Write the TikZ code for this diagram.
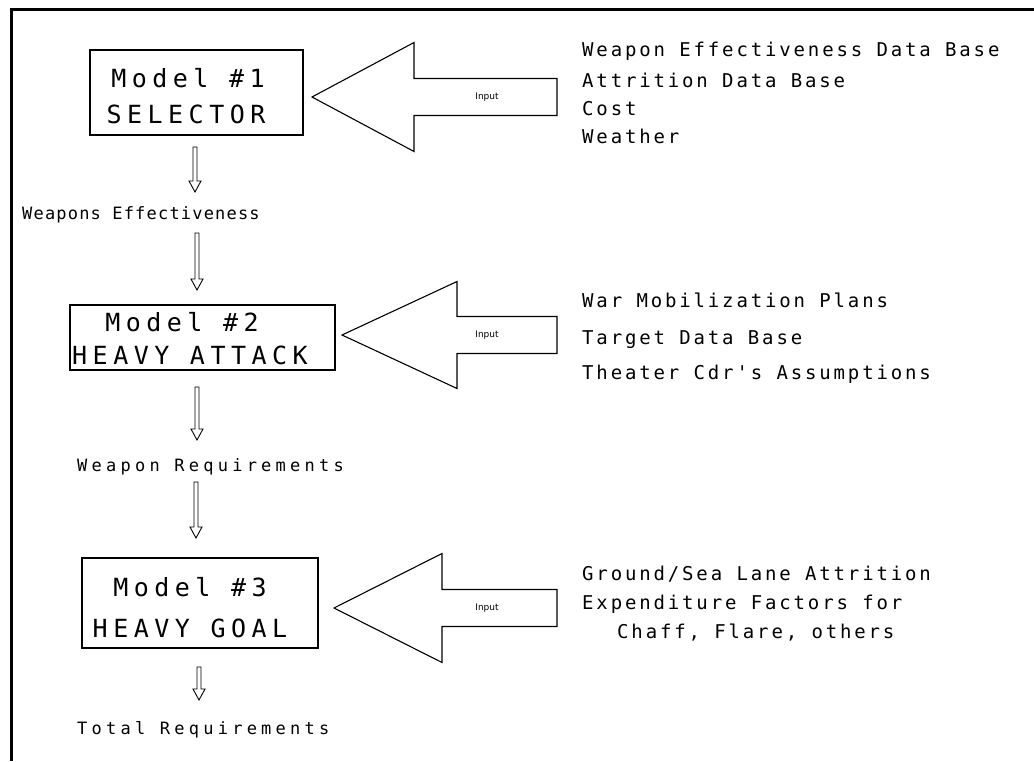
\documentclass[tikz,border=0pt]{standalone}
\usepackage{fontspec}
\setmainfont{DejaVu Sans}
\newfontfamily\boxfont[LetterSpace=22]{DejaVu Sans Mono}
\newfontfamily\listfont[LetterSpace=15]{DejaVu Sans Mono}
\newfontfamily\lblfonta[LetterSpace=7]{DejaVu Sans Mono}
\newfontfamily\lblfontb[LetterSpace=25]{DejaVu Sans Mono}
\newfontfamily\inpfont{DejaVu Sans}
\usetikzlibrary{calc}
\tikzset{
  modelbox/.style={draw, line width=1.1pt, align=center, inner sep=0pt},
  boxtext/.style={inner sep=0pt, font=\boxfont\fontsize{25}{36}\selectfont},
  listline/.style={anchor=west, inner sep=0pt, text height=14pt, text depth=0pt, font=\listfont\fontsize{19}{20}\selectfont},
  flowlbl/.style={anchor=west, inner sep=0pt, text height=12pt, text depth=0pt},
  inplbl/.style={inner sep=0pt, font=\inpfont\fontsize{9}{10}\selectfont},
  bigarrow/.style={draw, line width=1.1pt, line join=miter},
  hollow/.style={draw, line width=0.9pt, line join=miter},
  frameline/.style={line width=3pt}
}
% hollow down arrow between two named coordinates
\newcommand\hollowarrow[2]{%
  \draw[hollow] ($(#1)+(-2,0)$) -- ($(#1 |- #2)+(-2,-11)$) -- ($(#1 |- #2)+(-6,-11)$) -- (#1 |- #2)
     -- ($(#1 |- #2)+(6,-11)$) -- ($(#1 |- #2)+(2,-11)$) -- ($(#1)+(2,0)$) -- cycle;}
% big input arrow
\newcommand\inputarrow[5]{%
  \draw[bigarrow] (#1) -- ($(#1)+(#2,-#3)$) -- ($(#1)+(#2,-#4)$) -- ($(#1)+(#5,-#4)$)
     -- ($(#1)+(#5,#4)$) -- ($(#1)+(#2,#4)$) -- ($(#1)+(#2,#3)$) -- cycle;}
\begin{document}
\begin{tikzpicture}[x=1pt,y=-1pt]
\useasboundingbox (0,0) rectangle (1034,761);
% frame
\coordinate (fr-tr) at (1034,9);
\coordinate (fr-tl) at (11,9);
\coordinate (fr-bl) at (11,761);
\draw[frameline] (fr-tr) -- (fr-tl) -- (fr-bl);

% Model boxes
\node[modelbox, minimum width=213pt, minimum height=85pt] (m1) at (196.5,92.5) {};
\node[boxtext] (m1a) at (188,78) {Model \#1};
\node[boxtext] (m1b) at (186,114) {SELECTOR};

\node[modelbox, minimum width=265pt, minimum height=65pt] (m2) at (202.5,337.5) {};
\node[boxtext] (m2a) at (182,322) {Model \#2};
\node[boxtext] (m2b) at (190,355) {HEAVY ATTACK};

\node[modelbox, minimum width=236pt, minimum height=90pt] (m3) at (200,603) {};
\node[boxtext] (m3a) at (190,587) {Model \#3};
\node[boxtext] (m3b) at (190,628) {HEAVY GOAL};

% input arrows
\coordinate (t1) at (312,97);
\inputarrow{t1}{102}{54.5}{18.5}{245}
\node[inplbl] (in1) at (487,97) {Input};
\coordinate (t2) at (342,335);
\inputarrow{t2}{115}{53.5}{18.5}{215}
\node[inplbl] (in2) at (487,335) {Input};
\coordinate (t3) at (334,608);
\inputarrow{t3}{108}{54.5}{18.5}{223}
\node[inplbl] (in3) at (487,608) {Input};

% right lists
\node[listline] (l11) at (582,49) {Weapon Effectiveness Data Base};
\node[listline] (l12) at (582,80) {Attrition Data Base};
\node[listline] (l13) at (582,108) {Cost};
\node[listline] (l14) at (582,136) {Weather};

\node[listline] (l21) at (582,300) {War Mobilization Plans};
\node[listline] (l22) at (582,337) {Target Data Base};
\node[listline] (l23) at (582,372) {Theater Cdr's Assumptions};

\node[listline] (l31) at (582,573) {Ground/Sea Lane Attrition};
\node[listline] (l32) at (582,602) {Expenditure Factors for};
\node[listline] (l33) at (617,631) {Chaff, Flare, others};

% flow labels
\node[flowlbl, font=\lblfonta\fontsize{17}{18}\selectfont] (we) at (22,213) {Weapons Effectiveness};
\node[flowlbl, font=\lblfontb\fontsize{17}{18}\selectfont] (wr) at (77,465) {Weapon Requirements};
\node[flowlbl, font=\lblfontb\fontsize{17}{18}\selectfont] (tr) at (77,728) {Total Requirements};

% hollow down arrows
\coordinate (a1s) at (195,147); \coordinate (a1e) at (195,192);
\hollowarrow{a1s}{a1e}
\coordinate (a2s) at (197,233); \coordinate (a2e) at (197,290);
\hollowarrow{a2s}{a2e}
\coordinate (a3s) at (197,387); \coordinate (a3e) at (197,440);
\hollowarrow{a3s}{a3e}
\coordinate (a4s) at (196,482); \coordinate (a4e) at (196,538);
\hollowarrow{a4s}{a4e}
\coordinate (a5s) at (199,667); \coordinate (a5e) at (199,700);
\hollowarrow{a5s}{a5e}
\end{tikzpicture}
\end{document}
